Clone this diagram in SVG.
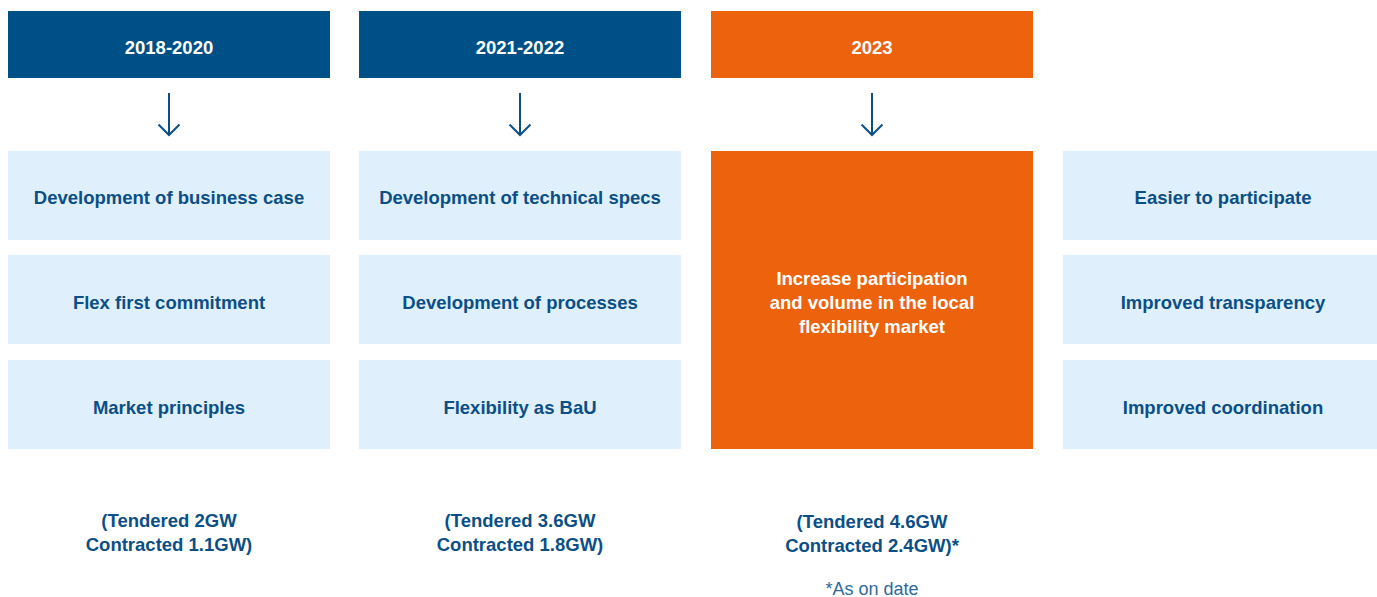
<svg xmlns="http://www.w3.org/2000/svg" width="1377" height="597" viewBox="0 0 1377 597">
<style>
.hdr{fill:#005088}
.org{fill:#EC620D}
.lt{fill:#DFF0FC}
.ht{font-family:"Liberation Sans",Arial,sans-serif;font-weight:bold;font-size:18.5px;fill:#fff;text-anchor:middle}
.bt{font-family:"Liberation Sans",Arial,sans-serif;font-weight:bold;font-size:18.5px;fill:#0B4F86;text-anchor:middle}
.ot{font-family:"Liberation Sans",Arial,sans-serif;font-weight:bold;font-size:18.5px;fill:#fff;text-anchor:middle}
.nt{font-family:"Liberation Sans",Arial,sans-serif;font-size:18px;fill:#2E6A9C;text-anchor:middle}
.arr{stroke:#0B4F86;stroke-width:2;fill:none}
</style>
<g id="col1-header"><rect class="hdr" x="8" y="11" width="322" height="67"/><text class="ht" x="169" y="54">2018-2020</text></g>
<g id="col2-header"><rect class="hdr" x="359" y="11" width="322" height="67"/><text class="ht" x="520" y="54">2021-2022</text></g>
<g id="col3-header"><rect class="org" x="711" y="11" width="322" height="67"/><text class="ht" x="872" y="54">2023</text></g>
<g id="c1b1"><rect class="lt" x="8" y="151" width="322" height="89"/><text class="bt" x="169" y="204">Development of business case</text></g>
<g id="c1b2"><rect class="lt" x="8" y="255" width="322" height="89"/><text class="bt" x="169" y="309">Flex first commitment</text></g>
<g id="c1b3"><rect class="lt" x="8" y="360" width="322" height="89"/><text class="bt" x="169" y="414">Market principles</text></g>
<g id="c2b1"><rect class="lt" x="359" y="151" width="322" height="89"/><text class="bt" x="520" y="204">Development of technical specs</text></g>
<g id="c2b2"><rect class="lt" x="359" y="255" width="322" height="89"/><text class="bt" x="520" y="309">Development of processes</text></g>
<g id="c2b3"><rect class="lt" x="359" y="360" width="322" height="89"/><text class="bt" x="520" y="414">Flexibility as BaU</text></g>
<g id="c3b"><rect class="org" x="711" y="151" width="322" height="298"/><text class="ot" x="872" y="285">Increase participation</text><text class="ot" x="872" y="309">and volume in the local</text><text class="ot" x="872" y="333">flexibility market</text></g>
<g id="c4b1"><rect class="lt" x="1063" y="151" width="314" height="89"/><text class="bt" x="1223" y="204">Easier to participate</text></g>
<g id="c4b2"><rect class="lt" x="1063" y="255" width="314" height="89"/><text class="bt" x="1223" y="309">Improved transparency</text></g>
<g id="c4b3"><rect class="lt" x="1063" y="360" width="314" height="89"/><text class="bt" x="1223" y="414">Improved coordination</text></g>
<g id="c1note"><text class="bt" x="169" y="527">(Tendered 2GW</text><text class="bt" x="169" y="551">Contracted 1.1GW)</text></g>
<g id="c2note"><text class="bt" x="520" y="527">(Tendered 3.6GW</text><text class="bt" x="520" y="551">Contracted 1.8GW)</text></g>
<g id="c3note"><text class="bt" x="872" y="528">(Tendered 4.6GW</text><text class="bt" x="872" y="552">Contracted 2.4GW)*</text><text class="nt" x="872" y="595">*As on date</text></g>
<g id="connectors">
<path class="arr" d="M169 93V135M158.5 124.5L169 135L179.5 124.5"/>
<path class="arr" d="M520 93V135M509.5 124.5L520 135L530.5 124.5"/>
<path class="arr" d="M872 93V135M861.5 124.5L872 135L882.5 124.5"/>
</g>
</svg>
